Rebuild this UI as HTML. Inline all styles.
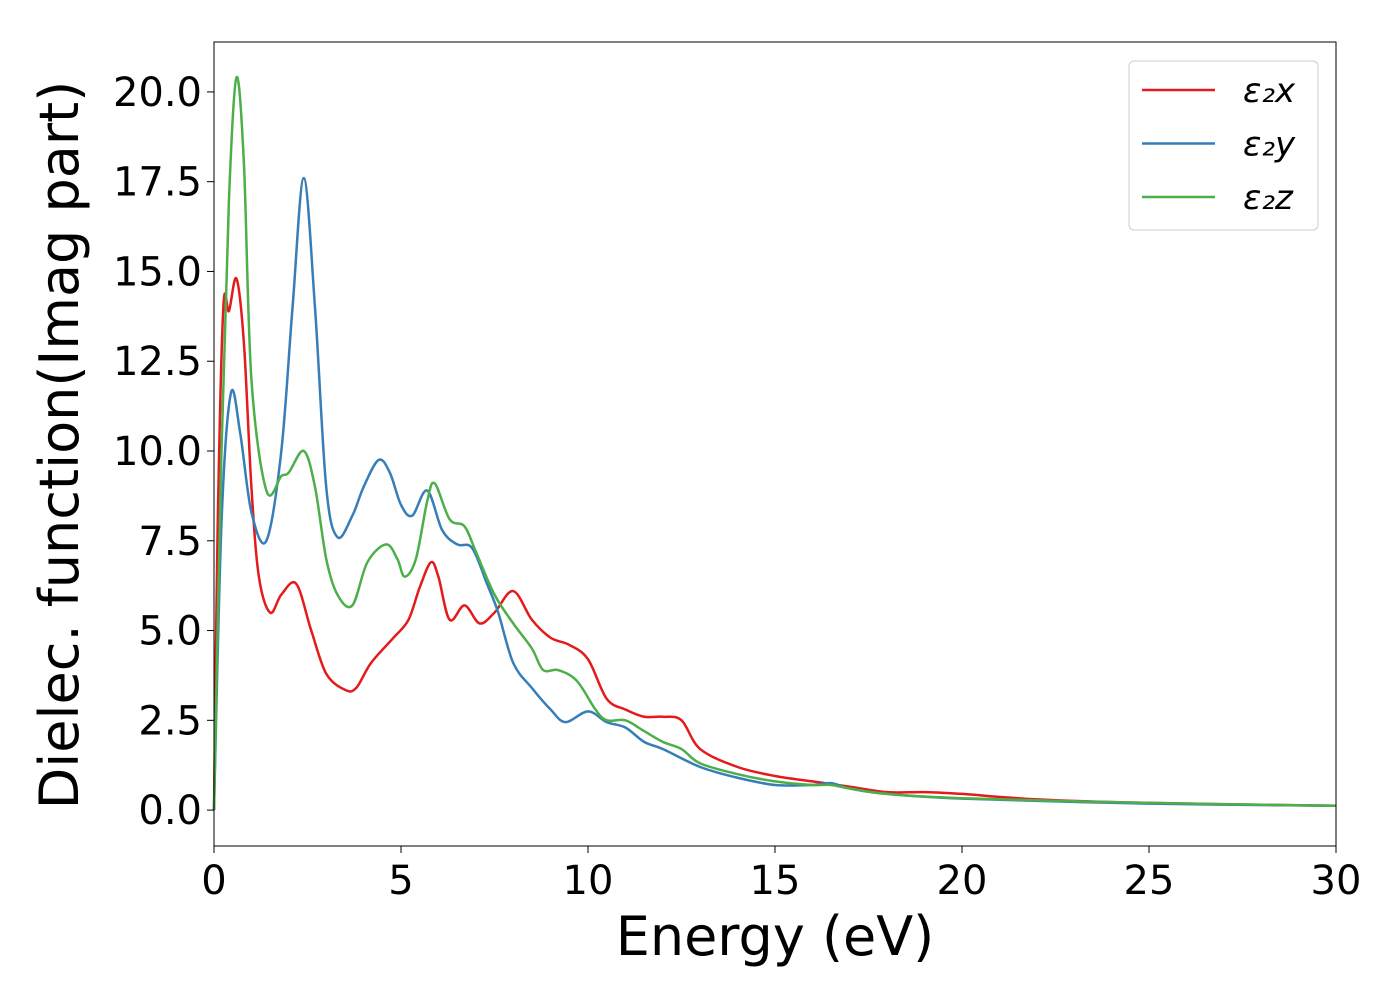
<!DOCTYPE html>
<html><head><meta charset="utf-8"><style>
body{margin:0;background:#fff}
text{font-family:"DejaVu Sans","Liberation Sans",sans-serif;fill:#000}
</style></head><body>
<svg id="chart" width="1400" height="1000" xmlns="http://www.w3.org/2000/svg">
<rect width="1400" height="1000" fill="#fff"/>
<g id="plot"></g>
<g id="axes"></g>
</svg>
<script>
const xTicks=[0,5,10,15,20,25,30];
const yTicks=[0,2.5,5,7.5,10,12.5,15,17.5,20];
const yTickLabels=["0.0","2.5","5.0","7.5","10.0","12.5","15.0","17.5","20.0"];
const seriesNames=["ε₂x","ε₂y","ε₂z"];
const xE=[0,0.1,0.25,0.4,0.6,0.8,1.0,1.2,1.5,1.8,2.2,2.6,3.0,3.5,3.8,4.2,4.8,5.2,5.5,5.8,6.0,6.3,6.7,7.1,7.5,8.0,8.5,9.0,9.5,10,10.5,11,11.5,12,12.5,13,14,15,16,17,18,19,20,22,25,30];
const xV=[0,8,14,13.9,14.8,13,9,6.5,5.5,6,6.3,5,3.8,3.35,3.4,4.1,4.8,5.3,6.2,6.9,6.5,5.3,5.7,5.2,5.5,6.1,5.3,4.8,4.6,4.2,3.1,2.8,2.6,2.6,2.5,1.7,1.2,0.95,0.8,0.65,0.5,0.5,0.45,0.3,0.2,0.12];
const yE=[0,0.2,0.45,0.7,1.0,1.4,1.8,2.1,2.4,2.7,3.0,3.3,3.7,4.0,4.4,4.7,5.0,5.3,5.7,6.1,6.5,6.9,7.3,7.6,8.0,8.5,9.0,9.4,10.0,10.5,11,11.5,12,13,14,15,16,16.5,17,18,20,25,30];
const yV=[0,8,11.6,10.5,8.3,7.5,10,14,17.6,14,9,7.6,8.2,9,9.75,9.4,8.5,8.2,8.9,7.8,7.4,7.3,6.3,5.5,4.1,3.4,2.8,2.45,2.75,2.45,2.3,1.9,1.7,1.2,0.9,0.7,0.7,0.75,0.6,0.45,0.32,0.18,0.12];
const zE=[0,0.2,0.4,0.6,0.8,1.0,1.4,1.8,2.0,2.4,2.7,3.0,3.3,3.7,4.1,4.6,4.9,5.1,5.4,5.7,5.9,6.3,6.7,7.0,7.5,8.0,8.5,8.8,9.2,9.7,10.2,10.5,11,11.5,12,12.5,13,14,15,16,16.5,17,18,20,25,30];
const zV=[0,10,17,20.4,18,12,8.9,9.3,9.4,10,9,7,6,5.7,6.9,7.4,7,6.5,7,8.6,9.1,8.1,7.9,7.2,6.0,5.2,4.5,3.9,3.9,3.6,2.8,2.5,2.5,2.2,1.9,1.7,1.3,1.0,0.8,0.7,0.7,0.6,0.45,0.33,0.2,0.12];
const L=214,R=1336,T=42,B=846,xmin=0,xmax=30,ymin=-1.0,ymax=21.39;
const sx=v=>L+(v-xmin)/(xmax-xmin)*(R-L);
const sy=v=>B-(v-ymin)/(ymax-ymin)*(B-T);
const NS="http://www.w3.org/2000/svg";
function mk(tag,attrs,parent){const e=document.createElementNS(NS,tag);for(const k in attrs)e.setAttribute(k,attrs[k]);parent.appendChild(e);return e;}
const plot=document.getElementById('plot'),axes=document.getElementById('axes');
function path(xs,vs){const p=xs.map((x,i)=>[sx(x),sy(vs[i])]);let d=`M${p[0][0]},${p[0][1]}`;
for(let i=0;i<p.length-1;i++){const p0=p[Math.max(0,i-1)],p1=p[i],p2=p[i+1],p3=p[Math.min(p.length-1,i+2)];
const c1=[p1[0]+(p2[0]-p0[0])/6,p1[1]+(p2[1]-p0[1])/6],c2=[p2[0]-(p3[0]-p1[0])/6,p2[1]-(p3[1]-p1[1])/6];
d+=`C${c1[0]},${c1[1]} ${c2[0]},${c2[1]} ${p2[0]},${p2[1]}`;}return d;}
const cols=["#e41a1c","#377eb8","#4daf4a"];
const data=[[xE,xV],[yE,yV],[zE,zV]];
const names=['series-eps2x','series-eps2y','series-eps2z'];
data.forEach((s,i)=>{const e=mk('path',{d:path(s[0],s[1]),fill:'none',stroke:cols[i],'stroke-width':2.5},plot);

});
const fr=mk('rect',{x:L,y:T,width:R-L,height:B-T,fill:'none',stroke:'#000','stroke-width':1},axes);


xTicks.forEach(v=>{mk('line',{x1:sx(v),x2:sx(v),y1:B,y2:B+7,stroke:'#000'},axes);
const t=mk('text',{x:sx(v),y:B+48,'text-anchor':'middle','font-size':40},axes);t.textContent=v;

});
yTicks.forEach((v,i)=>{mk('line',{x1:L-7,x2:L,y1:sy(v),y2:sy(v),stroke:'#000'},axes);
const t=mk('text',{x:L-12,y:sy(v)+14,'text-anchor':'end','font-size':40},axes);t.textContent=yTickLabels[i];

});
const xt=mk('text',{x:775,y:955,'text-anchor':'middle','font-size':54},axes);xt.textContent='Energy (eV)';


const yt=mk('text',{x:0,y:0,'text-anchor':'middle','font-size':54,transform:'translate(78,445) rotate(-90)'},axes);yt.textContent='Dielec. function(Imag part)';


const lg=mk('g',{},axes);


mk('rect',{x:1129,y:61,width:189,height:169,rx:5,fill:'#fff',stroke:'#ccc','stroke-width':1},lg);
seriesNames.forEach((n,i)=>{const y=90+i*53.5;
mk('line',{x1:1142,x2:1215,y1:y,y2:y,stroke:cols[i],'stroke-width':2.5},lg);
const t=mk('text',{x:1243,y:y+12,'font-size':34,'font-style':'italic'},lg);t.textContent=n;

});
</script>
</body></html>
